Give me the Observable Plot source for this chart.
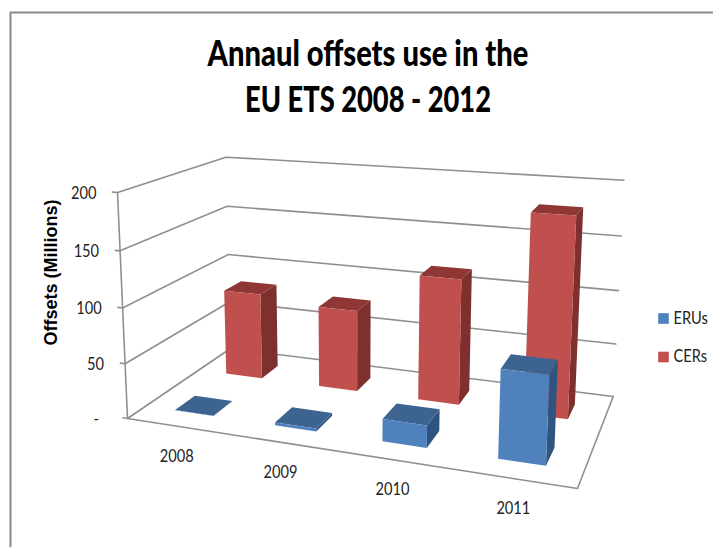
<!DOCTYPE html>
<html>
<head>
<meta charset="utf-8">
<script src="https://cdn.jsdelivr.net/npm/d3@7"></script>
<script src="https://cdn.jsdelivr.net/npm/@observablehq/plot@0.6"></script>
<style>
  html, body { margin: 0; padding: 0; background: #fff; }
  svg { display: block; }
</style>
</head>
<body>
<div id="chart"></div>
<script>
// Chart values
const years = ["2008", "2009", "2010", "2011"];
const erus = [0.3, 2.5, 19.5, 75];
const cers = [83, 77, 116, 180];
const valueTicks = [0, 50, 100, 150, 200];
const valueTickLabels = ["-\u00a0\u00a0", "50", "100", "150", "200"];
const seriesNames = ["ERUs", "CERs"];
const titleLines = ["Annaul offsets use in the", "EU ETS 2008 - 2012"];
const yAxisTitle = "Offsets (Millions)";

// Perspective of the 3D plot box: t runs along the years, s runs front to back,
// r runs up the value axis. Each axis has one end corner and one perspective weight.
const corner = {origin: [127, 418], right: [577, 488], back: [230, 348], up: [117, 192]};
const weight = {right: 0.859, back: 1.189, up: 0.958};

function project(t, s, r) {
  const d = 1 + (weight.right - 1) * t + (weight.back - 1) * s + (weight.up - 1) * r;
  const at = i => (corner.origin[i]
    + t * (weight.right * corner.right[i] - corner.origin[i])
    + s * (weight.back * corner.back[i] - corner.origin[i])
    + r * (weight.up * corner.up[i] - corner.origin[i])) / d;
  return {x: at(0), y: at(1)};
}
const maxValue = 200;
const P = (t, s, v) => project(t, s, v / maxValue);

// Layout of bars inside the box
const halfWidth = 0.049;
const rows = [
  {name: "CERs", values: cers, s0: 0.658, s1: 0.842, front: "#c0504d", side: "#7d302e", top: "#8f3735"},
  {name: "ERUs", values: erus, s0: 0.156, s1: 0.340, front: "#4f81bd", side: "#2f5480", top: "#3d6491"}
];

// Three visible faces of every bar, back row first so the front row overlaps it
const faces = rows.flatMap(row => row.values.flatMap((v, i) => {
  const c = (i + 0.5) / years.length;
  const t0 = c - halfWidth, t1 = c + halfWidth;
  const {s0, s1} = row;
  return [
    {fill: row.side, pts: [P(t1, s0, 0), P(t1, s1, 0), P(t1, s1, v), P(t1, s0, v)]},
    {fill: row.top, pts: [P(t0, s0, v), P(t1, s0, v), P(t1, s1, v), P(t0, s1, v)]},
    {fill: row.front, pts: [P(t0, s0, 0), P(t1, s0, 0), P(t1, s0, v), P(t0, s0, v)]}
  ];
}));

const gridColor = "#8f8f8f";
const gridLines = valueTicks.map(v => [P(-0.012, 0, v), P(0, 0, v), P(0, 1, v), P(1, 1, v)]);
const floorEdge = [P(0, 0, 0), P(1, 0, 0), P(1, 1, 0)];
const valueAxis = [P(0, 0, 0), P(0, 0, maxValue)];

const lineStyle = {x: "x", y: "y", stroke: gridColor, strokeWidth: 1.6};
const textFont = "Lato";

const chart = Plot.plot({
  width: 713,
  height: 547,
  margin: 0,
  x: {domain: [0, 713], range: [0, 713], axis: null},
  y: {domain: [0, 547], range: [0, 547], axis: null},
  marks: [
    // Frame of the chart area
    Plot.ruleX([10], {y1: 12, y2: 547, stroke: "#8a8a8a", strokeWidth: 2}),
    Plot.ruleY([12], {x1: 10, x2: 713, stroke: "#8a8a8a", strokeWidth: 2}),

    // Title
    Plot.text(titleLines, {
      x: () => 367.5, y: (d, i) => 54 + i * 46, text: d => d,
      fontFamily: textFont, fontWeight: 900, fontSize: 36, fill: "#000"
    }),

    // Walls and floor of the box
    ...gridLines.map(l => Plot.line(l, lineStyle)),
    Plot.line(valueAxis, lineStyle),
    Plot.line(floorEdge, lineStyle),

    // Bars
    ...faces.map(f => Plot.line(f.pts, {x: "x", y: "y", fill: f.fill, stroke: "none"})),

    // Value labels
    Plot.text(valueTicks, {
      x: v => P(0, 0, v).x, y: v => P(0, 0, v).y + 1, dx: -21,
      text: (v, i) => valueTickLabels[i], textAnchor: "end",
      fontFamily: textFont, fontSize: 17, fill: "#222"
    }),
    // Year labels under the front edge
    Plot.text(years, {
      x: (d, i) => P((i + 0.5) / years.length, 0, 0).x,
      y: (d, i) => P((i + 0.5) / years.length, 0, 0).y + 30,
      text: d => d, fontFamily: textFont, fontSize: 17, fill: "#222"
    }),
    // Value axis title
    Plot.text([yAxisTitle], {
      x: () => 51, y: () => 272, text: d => d, rotate: -90,
      fontFamily: "Liberation Sans", fontWeight: 700, fontSize: 18, fill: "#000"
    }),

    // Legend
    Plot.dot(seriesNames, {
      x: () => 663, y: (d, i) => 318 + i * 38.5, symbol: "square", r: 6,
      fill: d => d === "ERUs" ? rows[1].front : rows[0].front, stroke: "none"
    }),
    Plot.text(seriesNames, {
      x: () => 673, y: (d, i) => 318 + i * 38.5, text: d => d, textAnchor: "start",
      fontFamily: textFont, fontSize: 17, fill: "#222"
    })
  ]
});
document.getElementById("chart").append(chart);

// Lato runs wider than the chart's condensed lettering, so narrow it in place
const widths = new Map([[titleLines[0], 321], [titleLines[1], 246]]);
chart.querySelectorAll("text").forEach(el => {
  const label = el.textContent;
  if (label === yAxisTitle) return;
  const target = widths.get(label) ?? el.getComputedTextLength() * 0.86;
  el.setAttribute("textLength", target);
  el.setAttribute("lengthAdjust", "spacingAndGlyphs");
});
</script>
</body>
</html>
